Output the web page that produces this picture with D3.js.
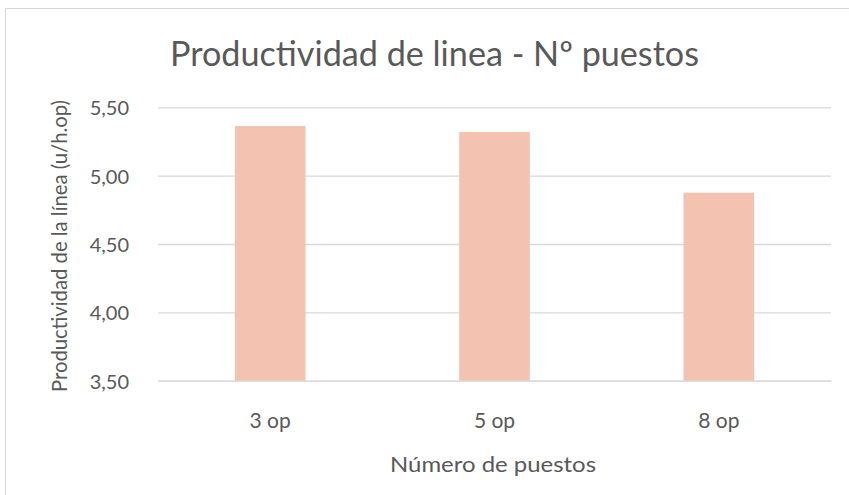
<!DOCTYPE html>
<html><head><meta charset="utf-8">
<script src="https://cdn.jsdelivr.net/npm/d3@7"></script>
<style>body{margin:0;background:#fff;} svg{display:block;} text{font-family:Lato, "Open Sans", sans-serif; fill:#595959;}</style>
</head><body>
<svg id="c" width="849" height="495"></svg>
<script>
const categories = ["3 op", "5 op", "8 op"];
const values = [5.363, 5.319, 4.875];
const yTicks = [3.5, 4.0, 4.5, 5.0, 5.5];
const title = "Productividad de linea - Nº puestos";
const xTitle = "Número de puestos";
const yTitle = "Productividad de la línea (u/h.op)";

(function(){
const svg = d3.select("#c");
svg.append("rect").attr("x",5.5).attr("y",8.5).attr("width",900).attr("height",600)
  .attr("fill","#fff").attr("stroke","#d9d9d9");

const pl = 158, pr = 831, pt = 107.3, pb = 380.7;
const x = d3.scaleBand().domain(categories).range([pl,pr]).paddingInner(0.685).paddingOuter(0.3425);
const y = d3.scaleLinear().domain([3.5,5.5]).range([pb,pt]);

const grid = svg.append("g").attr("transform",`translate(${pl},0)`)
  .call(d3.axisLeft(y).tickValues(yTicks).tickSize(-(pr-pl)).tickFormat(""));
grid.select(".domain").remove();
grid.selectAll("line").attr("stroke","#d9d9d9").attr("stroke-width",1.3);

svg.append("g").selectAll("rect").data(values).join("rect")
  .attr("x",(d,i)=>x(categories[i])).attr("width",x.bandwidth())
  .attr("y",d=>y(d)).attr("height",d=>y(3.5)-y(d)).attr("fill","#f4c2b0");

const ya = svg.append("g").attr("transform",`translate(129,0)`)
  .call(d3.axisLeft(y).tickValues(yTicks).tickSize(0).tickPadding(0).tickFormat(d=>d3.format(".2f")(d).replace(".",",")));
ya.select(".domain").remove();
ya.selectAll("text").attr("font-size",20).attr("dy","0.37em").attr("fill","#595959").attr("font-family","Lato");

const xa = svg.append("g").attr("transform",`translate(0,${pb})`)
  .call(d3.axisBottom(x).tickSize(0).tickPadding(0));
xa.select(".domain").attr("stroke","#d9d9d9").attr("stroke-width",1.3);
xa.selectAll("text").attr("font-size",21).attr("y",47).attr("dy",0).attr("fill","#595959").attr("font-family","Lato");

svg.append("text").attr("x",170).attr("y",66).attr("font-size",34)
  .attr("textLength",529).attr("lengthAdjust","spacingAndGlyphs").text(title);
svg.append("text").attr("x",493).attr("y",472).attr("text-anchor","middle").attr("font-size",22)
  .attr("textLength",206).attr("lengthAdjust","spacingAndGlyphs").text(xTitle);
svg.append("text").attr("transform","translate(67,246) rotate(-90)").attr("text-anchor","middle").attr("font-size",22)
  .attr("textLength",292).attr("lengthAdjust","spacingAndGlyphs").text(yTitle);
})();
</script>
</body></html>
